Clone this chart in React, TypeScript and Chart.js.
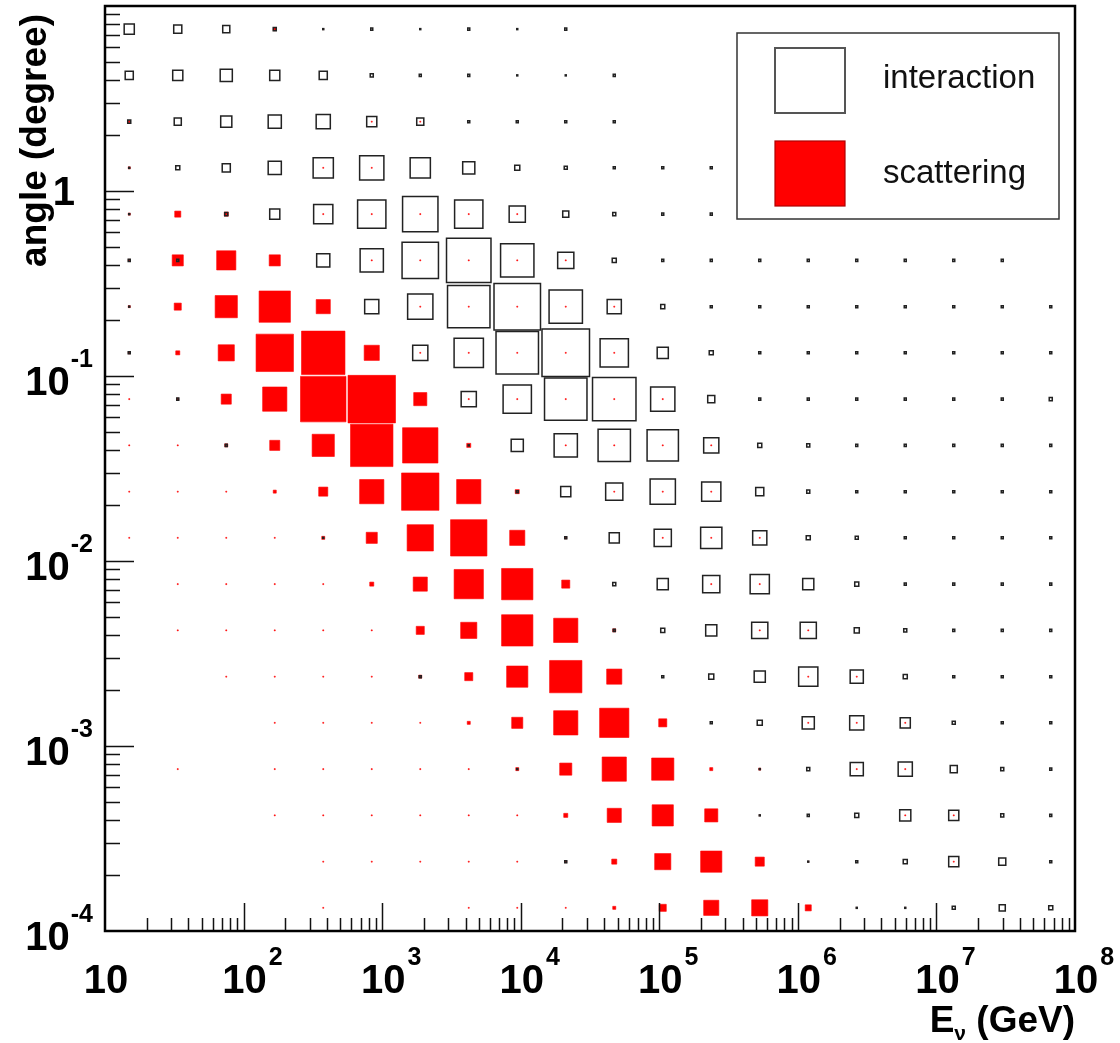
import { useEffect, useRef } from "react";
import { Chart, registerables } from "chart.js";

Chart.register(...registerables);

// ---- data ----
// energy bin centres (GeV), 20 log-spaced bins
const energyBinCenters = [14.96, 33.5, 75.0, 167.9, 375.8, 841.4, 1884, 4217, 9441, 21135, 47315, 105925, 237137, 530884, 1188502, 2660725, 5956621, 13335214, 29853826, 66834392];
// angle bin centres (degree), listed from top row to bottom row
const angleBinCenters = [7.499, 4.217, 2.371, 1.334, 0.7499, 0.4217, 0.2371, 0.1334, 0.07499, 0.04217, 0.02371, 0.01334, 0.007499, 0.004217, 0.002371, 0.001334, 0.0007499, 0.0004217, 0.0002371, 0.0001334];

// box contents (rows = angle bins top->bottom, cols = energy bins)
const interactionGrid = [
  [10, 8, 7, 3, 1, 2, 1, 2, 1, 2, 0, 0, 0, 0, 0, 0, 0, 0, 0, 0],
  [8, 10, 12, 10, 8, 3, 2, 2, 1, 1, 2, 0, 0, 0, 0, 0, 0, 0, 0, 0],
  [3, 7, 11, 13, 14, 10, 7, 2, 2, 2, 2, 0, 0, 0, 0, 0, 0, 0, 0, 0],
  [1, 4, 8, 13, 20, 24, 20, 12, 5, 3, 2, 2, 2, 0, 0, 0, 0, 0, 0, 0],
  [1, 0, 3, 10, 19, 28, 35, 28, 16, 6, 3, 2, 2, 0, 0, 0, 0, 0, 0, 0],
  [2, 2, 0, 0, 13, 23, 36, 44, 33, 16, 4, 2, 2, 2, 2, 2, 2, 2, 2, 0],
  [1, 0, 0, 0, 0, 14, 25, 42, 46, 33, 14, 4, 2, 2, 2, 2, 2, 2, 2, 2],
  [2, 0, 0, 0, 0, 0, 15, 29, 42, 47, 28, 11, 4, 2, 2, 2, 2, 2, 2, 2],
  [0, 2, 0, 0, 0, 0, 0, 15, 28, 42, 43, 24, 7, 2, 2, 2, 2, 2, 2, 3],
  [0, 0, 2, 0, 0, 0, 0, 1, 12, 23, 32, 31, 15, 4, 3, 2, 2, 2, 2, 2],
  [0, 0, 0, 0, 0, 0, 0, 0, 2, 10, 17, 25, 19, 8, 3, 2, 2, 2, 2, 2],
  [0, 0, 0, 0, 1, 0, 0, 0, 0, 2, 10, 17, 21, 14, 4, 3, 2, 2, 2, 2],
  [0, 0, 0, 0, 0, 0, 0, 0, 0, 0, 3, 11, 17, 19, 11, 4, 2, 2, 2, 2],
  [0, 0, 0, 0, 0, 0, 0, 0, 0, 0, 2, 4, 11, 16, 16, 5, 3, 2, 2, 2],
  [0, 0, 0, 0, 0, 0, 2, 0, 0, 0, 0, 2, 5, 11, 19, 13, 4, 2, 2, 2],
  [0, 0, 0, 0, 0, 0, 0, 0, 0, 0, 0, 0, 2, 5, 12, 14, 10, 3, 2, 2],
  [0, 0, 0, 0, 0, 0, 0, 0, 1, 0, 0, 0, 0, 1, 3, 13, 14, 7, 3, 2],
  [0, 0, 0, 0, 0, 0, 0, 0, 0, 0, 0, 0, 0, 1, 2, 4, 11, 10, 3, 2],
  [0, 0, 0, 0, 0, 0, 0, 0, 0, 2, 0, 0, 0, 0, 1, 2, 4, 10, 7, 2],
  [0, 0, 0, 0, 0, 0, 0, 0, 0, 0, 0, 0, 0, 0, 0, 1, 1, 3, 6, 4],
];

const scatteringGrid = [
  [0, 0, 0, 3, 1, 0, 0, 0, 0, 0, 0, 0, 0, 0, 0, 0, 0, 0, 0, 0],
  [0, 0, 0, 0, 0, 0, 0, 0, 0, 0, 0, 0, 0, 0, 0, 0, 0, 0, 0, 0],
  [2, 0, 0, 0, 0, 1, 1, 0, 0, 0, 0, 0, 0, 0, 0, 0, 0, 0, 0, 0],
  [2, 0, 0, 0, 1, 1, 0, 0, 0, 0, 0, 0, 0, 0, 0, 0, 0, 0, 0, 0],
  [2, 6, 4, 0, 1, 1, 1, 1, 1, 0, 0, 0, 0, 0, 0, 0, 0, 0, 0, 0],
  [2, 11, 19, 11, 0, 1, 1, 1, 1, 1, 0, 0, 0, 0, 0, 0, 0, 0, 0, 0],
  [2, 7, 22, 31, 14, 0, 1, 1, 1, 1, 1, 0, 0, 0, 0, 0, 0, 0, 0, 0],
  [2, 4, 16, 37, 43, 15, 1, 1, 1, 1, 1, 0, 0, 0, 0, 0, 0, 0, 0, 0],
  [1, 2, 10, 24, 45, 47, 13, 1, 1, 1, 1, 1, 0, 0, 0, 0, 0, 0, 0, 0],
  [1, 1, 3, 10, 22, 42, 35, 4, 0, 1, 1, 1, 1, 0, 0, 0, 0, 0, 0, 0],
  [1, 1, 1, 3, 9, 24, 37, 24, 4, 0, 1, 1, 1, 0, 0, 0, 0, 0, 0, 0],
  [1, 1, 1, 1, 3, 11, 26, 36, 15, 2, 0, 1, 1, 1, 0, 0, 0, 0, 0, 0],
  [0, 1, 1, 1, 1, 4, 14, 29, 31, 8, 0, 0, 1, 1, 0, 0, 0, 0, 0, 0],
  [0, 1, 1, 1, 1, 1, 8, 16, 31, 24, 3, 0, 0, 1, 1, 0, 0, 0, 0, 0],
  [0, 0, 1, 1, 1, 1, 3, 8, 21, 32, 15, 0, 0, 0, 1, 1, 0, 0, 0, 0],
  [0, 0, 0, 1, 1, 1, 1, 3, 11, 24, 29, 8, 0, 0, 1, 1, 1, 0, 0, 0],
  [0, 1, 0, 1, 1, 1, 1, 1, 3, 12, 24, 22, 3, 2, 0, 1, 1, 0, 0, 0],
  [0, 0, 0, 1, 1, 1, 1, 1, 1, 4, 14, 21, 13, 1, 0, 0, 1, 1, 0, 0],
  [0, 0, 0, 0, 1, 1, 1, 1, 1, 2, 5, 16, 21, 9, 1, 0, 0, 1, 0, 0],
  [0, 0, 0, 0, 1, 0, 0, 1, 1, 1, 3, 7, 15, 16, 6, 1, 1, 0, 0, 0],
];

const seriesNames = ["interaction", "scattering"];
const xDecadeExponents = [1, 2, 3, 4, 5, 6, 7, 8];
const yDecadeExponents = [-4, -3, -2, -1, 0, 1];
const xAxisTitle = "E";
const xAxisTitleSub = "\u03bd";
const xAxisTitleRest = " (GeV)";
const yAxisTitle = "angle (degree)";
const FULL_CONTENT = 48; // content that fills a whole bin

// ---- helpers ----
const FONT = '"Liberation Sans", Arial, Helvetica, sans-serif';

type Pt = { x: number; y: number; v: number };

function gridToPoints(grid: number[][]): Pt[] {
  const pts: Pt[] = [];
  grid.forEach((row, r) =>
    row.forEach((v, c) => {
      if (v > 0) pts.push({ x: energyBinCenters[c], y: angleBinCenters[r], v });
    })
  );
  return pts;
}

function boxRadius(ctx: any): number {
  const raw = ctx.raw as Pt | undefined;
  if (!raw) return 0;
  const xs = ctx.chart.scales.x;
  if (!xs) return 0;
  const binPx = Math.abs(xs.getPixelForValue(energyBinCenters[1]) - xs.getPixelForValue(energyBinCenters[0]));
  const side = (raw.v / FULL_CONTENT) * binPx;
  return side / Math.SQRT2;
}

const rootPlugin = {
  id: "rootStyle",
  afterDraw(chart: any) {
    const { ctx, chartArea: a, scales } = chart;
    const xs = scales.x;
    const ys = scales.y;
    ctx.save();

    // legend
    const lx = a.right - 338, ly = a.top + 27, lw = 322, lh = 186;
    ctx.fillStyle = "#fff";
    ctx.fillRect(lx, ly, lw, lh);
    ctx.strokeStyle = "#333";
    ctx.lineWidth = 1.5;
    ctx.strokeRect(lx, ly, lw, lh);
    ctx.strokeStyle = "#555";
    ctx.lineWidth = 2;
    ctx.strokeRect(lx + 38, ly + 15, 70, 65);
    ctx.fillStyle = "#ff0000";
    ctx.fillRect(lx + 38, ly + 108, 70, 65);
    ctx.strokeStyle = "#b00000";
    ctx.lineWidth = 1.2;
    ctx.strokeRect(lx + 38, ly + 108, 70, 65);
    ctx.fillStyle = "#111";
    ctx.font = `33px ${FONT}`;
    ctx.textAlign = "left";
    ctx.textBaseline = "middle";
    ctx.fillText(seriesNames[0], lx + 146, ly + 46);
    ctx.fillText(seriesNames[1], lx + 146, ly + 141);

    // ticks
    ctx.strokeStyle = "#111";
    ctx.lineWidth = 1.5;
    ctx.beginPath();
    for (let i = 0; i < xDecadeExponents.length - 1; i++) {
      const d = xDecadeExponents[i];
      for (let m = 1; m < 10; m++) {
        if (m === 1 && i === 0) continue;
        const v = m * Math.pow(10, d);
        const px = Math.round(xs.getPixelForValue(v)) + 0.5;
        const len = m === 1 ? 28 : 13;
        ctx.moveTo(px, a.bottom);
        ctx.lineTo(px, a.bottom - len);
      }
    }
    for (let i = 0; i < yDecadeExponents.length - 1; i++) {
      const d = yDecadeExponents[i];
      for (let m = 1; m < 10; m++) {
        if (m === 1 && i === 0) continue;
        const v = m * Math.pow(10, d);
        const py = Math.round(ys.getPixelForValue(v)) + 0.5;
        const len = m === 1 ? 29 : 15;
        ctx.moveTo(a.left, py);
        ctx.lineTo(a.left + len, py);
      }
    }
    ctx.stroke();

    // frame
    ctx.strokeStyle = "#000";
    ctx.lineWidth = 2.5;
    ctx.strokeRect(a.left, a.top, a.right - a.left, a.bottom - a.top);

    // x tick labels: "10" centred on the tick, exponent to its right
    const baseFont = `bold 40px ${FONT}`;
    const supFont = `bold 25px ${FONT}`;
    ctx.fillStyle = "#000";
    ctx.textBaseline = "alphabetic";
    ctx.textAlign = "left";
    for (const d of xDecadeExponents) {
      const px = xs.getPixelForValue(Math.pow(10, d));
      const by = a.bottom + 62;
      ctx.font = baseFont;
      const wb = ctx.measureText("10").width;
      const x0 = px - wb / 2 + 1;
      ctx.fillText("10", x0, by);
      if (d !== 1) {
        ctx.font = supFont;
        ctx.fillText(String(d), x0 + wb + 2, by - 28);
      }
    }

    // y tick labels
    const rightEdge = a.left - 12;
    for (const d of yDecadeExponents) {
      if (d === 1) continue;
      const py = ys.getPixelForValue(Math.pow(10, d));
      if (d === 0) {
        ctx.font = baseFont;
        ctx.textAlign = "right";
        ctx.fillText("1", rightEdge - 18, py + 14);
        ctx.textAlign = "left";
        continue;
      }
      ctx.font = supFont;
      const sup = String(d);
      const ws = ctx.measureText(sup).width;
      ctx.font = baseFont;
      const wb = ctx.measureText("10").width;
      const x0 = rightEdge - ws - wb - 1;
      ctx.fillText("10", x0, py + 19);
      ctx.font = supFont;
      ctx.fillText(sup, x0 + wb + 1, py - 9);
    }

    // x axis title (right aligned at the axis end)
    const tFont = `bold 37px ${FONT}`;
    const tSubFont = `bold 21px ${FONT}`;
    ctx.font = tFont;
    const wE = ctx.measureText(xAxisTitle).width;
    const wRest = ctx.measureText(xAxisTitleRest).width;
    ctx.font = tSubFont;
    const wSub = ctx.measureText(xAxisTitleSub).width;
    const tx0 = a.right - (wE + wSub + wRest);
    const tby = a.bottom + 101;
    ctx.font = tFont;
    ctx.fillText(xAxisTitle, tx0, tby);
    ctx.font = tSubFont;
    ctx.fillText(xAxisTitleSub, tx0 + wE, tby + 8);
    ctx.font = tFont;
    ctx.fillText(xAxisTitleRest, tx0 + wE + wSub, tby);

    // y axis title (rotated, aligned at axis top)
    ctx.translate(46, a.top + 8);
    ctx.rotate(-Math.PI / 2);
    ctx.font = tFont;
    ctx.textAlign = "right";
    ctx.textBaseline = "alphabetic";
    ctx.fillText(yAxisTitle, 0, 0);

    ctx.restore();
  },
};

export default function App() {
  const canvasRef = useRef<HTMLCanvasElement | null>(null);

  useEffect(() => {
    const canvas = canvasRef.current;
    if (!canvas) return;
    const chart = new Chart(canvas, {
      type: "scatter",
      data: {
        datasets: [
          {
            label: seriesNames[0],
            data: gridToPoints(interactionGrid) as any,
            pointStyle: "rect",
            pointRadius: boxRadius as any,
            pointHoverRadius: boxRadius as any,
            backgroundColor: "rgba(0,0,0,0)",
            borderColor: "#222",
            borderWidth: 1.5,
            pointHoverBorderWidth: 1.5,
          },
          {
            label: seriesNames[1],
            data: gridToPoints(scatteringGrid) as any,
            pointStyle: "rect",
            pointRadius: boxRadius as any,
            pointHoverRadius: boxRadius as any,
            backgroundColor: "#ff0000",
            borderColor: "#ff0000",
            borderWidth: 0.6,
            pointHoverBorderWidth: 0.6,
          },
        ],
      },
      options: {
        responsive: false,
        animation: false,
        events: [],
        layout: { padding: { left: 105, right: 45, top: 6, bottom: 112 } },
        plugins: { legend: { display: false }, tooltip: { enabled: false } },
        scales: {
          x: { type: "logarithmic", min: 10, max: 1e8, display: false },
          y: { type: "logarithmic", min: 1e-4, max: 10, display: false },
        },
      },
      plugins: [rootPlugin],
    });
    return () => chart.destroy();
  }, []);

  return (
    <div style={{ position: "fixed", left: 0, top: 0, width: 1120, height: 1043, background: "#fff" }}>
      <canvas ref={canvasRef} width={1120} height={1043} style={{ display: "block" }} />
    </div>
  );
}
